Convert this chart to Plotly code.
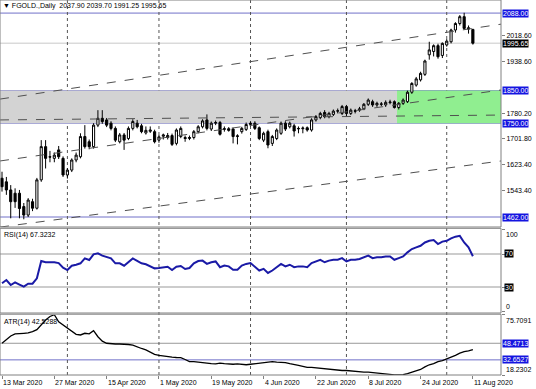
import plotly.graph_objects as go

# ---------------- data ----------------
bars = list(range(109))
opens = [1581,1570,1545,1535,1535,1494,1468,1509,1489,1576,1678,1647,1642,1668,1642,1591,1606,1637,1647,1709,
         1693,1678,1744,1765,1760,1750,1734,1693,1714,1703,1734,1750,1742,1720,1725,1724,1698,1710,1712,1712,
         1688,1709,1706,1703,1706,1724,1739,1760,1732,1750,1752,1731,1733,1732,1709,1724,1731,1746,1750,1736,
         1698,1724,1688,1703,1719,1750,1739,1742,1734,1733,1736,1729,1760,1767,1783,1770,1777,1787,1780,1801,
         1780,1788,1790,1794,1808,1816,1806,1808,1806,1813,1816,1798,1811,1816,1845,1867,1883,1900,1960,1970,
         1988,1958,1990,2000,2036,2056,2077,2043,2037.90]
highs = [1601,1585,1560,1550,1545,1505,1520,1518,1582,1698,1698,1665,1660,1680,1648,1612,1642,1660,1719,1744,
         1700,1750,1790,1790,1766,1756,1740,1720,1720,1740,1762,1760,1748,1740,1740,1730,1714,1718,1720,1718,
         1734,1740,1712,1712,1729,1744,1762,1777,1755,1758,1757,1740,1738,1736,1716,1739,1752,1756,1756,1740,
         1724,1730,1714,1734,1755,1756,1755,1748,1740,1740,1740,1765,1775,1785,1790,1785,1792,1795,1806,1806,
         1795,1794,1800,1812,1826,1822,1816,1815,1820,1822,1820,1815,1826,1850,1876,1892,1908,1945,2000,1992,
         1994,1998,2008,2040,2060,2082,2089,2050,2039.70]
lows = [1540,1530,1458,1490,1458,1455,1462,1480,1485,1570,1611,1630,1630,1640,1585,1580,1600,1630,1642,1672,
        1670,1672,1738,1748,1738,1728,1692,1688,1668,1698,1728,1734,1719,1715,1720,1688,1690,1700,1700,1680,
        1682,1704,1693,1698,1700,1719,1734,1728,1726,1744,1712,1724,1724,1688,1685,1718,1726,1740,1729,1698,
        1692,1673,1680,1698,1714,1726,1734,1709,1719,1719,1724,1724,1755,1762,1765,1765,1772,1780,1775,1770,
        1775,1780,1785,1790,1803,1800,1800,1802,1800,1808,1795,1792,1806,1812,1840,1862,1878,1895,1945,1955,
        1948,1950,1985,1995,2028,2050,2036,2025,1991.25]
closes = [1555,1545,1509,1509,1488,1468,1514,1489,1576,1678,1642,1646,1652,1647,1591,1606,1637,1652,1709,1678,
          1678,1744,1765,1755,1744,1734,1698,1714,1698,1734,1755,1739,1724,1728,1729,1693,1708,1714,1706,1685,
          1729,1734,1703,1706,1724,1739,1757,1734,1750,1752,1716,1733,1728,1709,1711,1734,1746,1750,1734,1703,
          1719,1683,1709,1729,1750,1732,1750,1726,1733,1735,1729,1760,1770,1780,1770,1780,1787,1788,1801,1780,
          1790,1787,1794,1808,1821,1806,1811,1809,1814,1815,1798,1811,1821,1845,1872,1886,1903,1941,1975,1988,
          1954,1995,2002,2036,2056,2077,2041,2039,1995.65]

rsi = [34.5,38.5,32.4,35.7,33,30.4,34,34,40.5,61.5,60,60,60,59,53.4,50.6,55.8,57,58.7,64.7,
       62.7,69.6,70.8,68,66.8,64.7,58.7,58.7,55.8,60.7,64.7,61.8,58.7,57.5,55,52.6,53,53.8,54.6,50.6,
       54.6,55.5,51.8,53,58.7,61.5,
       62,58,60,61,54,56,55,51,51,56,58,
       59,55,50,52,47,50,
       54,58,55,57,54,55,55,54,
       59,61,63,60,62,63,63,65,61,63,
       63,64,66,68,65,66,66,67,67,63,65,67,
       72,76,78,80,84,
       86,87,82,85,86,89,91,92,84,78,67.3232]

atr = [48.5,52,55.4,57.4,57.4,58,58.3,59.5,61.5,66,70.7,74,75.7,69,65.9,62.7,60,57,56.4,58,
       57.5,60.5,54.7,50.5,48.5,47.8,47.8,47.8,47.8,47.3,46.8,45.5,43.5,42.1,40,38,37,36.2,35.7,35.2,
       34.9,34.7,33,31,30.9,30.3,
       29.5,29.5,29,28.8,29.5,29,28.5,28.5,28.8,28.5,
       28,28.5,29,30,30.5,31,31,30.5,30.5,30,
       29,28.5,27.5,26.5,25.5,25.5,25,24.5,24,23.5,
       23,22.5,22.5,22.5,22,21.5,21,21,21,20.5,
       20,19.5,19,18.6,18.4,18.23,18.5,19.5,21,22,
       23.5,26,28,29,31,32,33.5,35.5,37,39,
       40.5,41.2,42.53]

label_bars = [0, 12, 24, 36, 48, 60, 72, 84, 96, 108]
label_text = ["13 Mar 2020", "27 Mar 2020", "15 Apr 2020", "1 May 2020", "19 May 2020",
              "4 Jun 2020", "22 Jun 2020", "8 Jul 2020", "24 Jul 2020", "11 Aug 2020"]
grid_bars = [15, 36, 57, 79, 102]

price_ticks = [2018.60, 1938.60, 1780.20, 1701.80, 1623.40, 1543.40]
level_lines = [2088.00, 1850.00, 1750.00, 1462.00]
last_price = 1995.65
zone_low, zone_high = 1750.0, 1850.0
zone_split_bar = 90.6

line_x = [-0.46, 114.45]
channel_upper = [1824, 2054]
channel_mid = [1634, 1852]
channel_low = [1431, 1634]
flat_dash = [1760, 1775]

rsi_levels = [70, 30]
atr_levels = [48.4713, 32.6527]
atr_range = [18.2302, 75.7091]

title_text = "\u25bc FGOLD.,Daily  2037.90 2039.70 1991.25 1995.65"
rsi_text = "RSI(14) 67.3232"
atr_text = "ATR(14) 42.5288"

# ---------------- layout geometry (pixels) ----------------
W, H = 536, 389
T, B = 0, 14
PH = H - T - B  # plot height
def py(y):  # pixel y -> paper
    return (H - B - y) / PH

main_dom = [py(227), 1.0]
rsi_dom = [py(311.75), py(229.25)]
atr_dom = [0.0, py(314.7)]

FONT = "Liberation Sans"
FS = 7
BLUE_BOX = "#1414e0"
LVL_BLUE = "#7070c8"
BORDER = "#808080"

fig = go.Figure()

# channel / trend lines
for ys in (channel_upper, channel_mid, channel_low, flat_dash):
    fig.add_trace(go.Scatter(x=line_x, y=ys, mode="lines", xaxis="x", yaxis="y",
                             line=dict(color="#505050", width=1, dash="dash"),
                             hoverinfo="skip", showlegend=False))

fig.add_trace(go.Candlestick(
    x=bars, open=opens, high=highs, low=lows, close=closes, xaxis="x", yaxis="y",
    increasing=dict(line=dict(color="black", width=1), fillcolor="white"),
    decreasing=dict(line=dict(color="black", width=1), fillcolor="black"),
    whiskerwidth=0, showlegend=False, hoverinfo="skip"))

fig.add_trace(go.Scatter(x=bars, y=rsi, mode="lines", xaxis="x", yaxis="y2",
                         line=dict(color="#1a1aa6", width=2), showlegend=False, hoverinfo="skip"))
fig.add_trace(go.Scatter(x=bars, y=atr, mode="lines", xaxis="x", yaxis="y3",
                         line=dict(color="black", width=1.3), showlegend=False, hoverinfo="skip"))

shapes = []
# zones
shapes.append(dict(type="rect", xref="x", yref="y", x0=line_x[0], x1=zone_split_bar,
                   y0=zone_low, y1=zone_high, fillcolor="#d3d3d3", line=dict(width=0), layer="below"))
shapes.append(dict(type="rect", xref="x", yref="y", x0=zone_split_bar, x1=line_x[1],
                   y0=zone_low, y1=zone_high, fillcolor="#90ee90", line=dict(width=0), layer="below"))
# last price line
shapes.append(dict(type="line", xref="paper", yref="y", x0=0, x1=1, y0=last_price, y1=last_price,
                   line=dict(color="#c8c8c8", width=1), layer="below"))
# level lines
for lv in level_lines:
    shapes.append(dict(type="line", xref="paper", yref="y", x0=0, x1=1, y0=lv, y1=lv,
                       line=dict(color=LVL_BLUE, width=1), layer="below"))
for lv in rsi_levels:
    shapes.append(dict(type="line", xref="paper", yref="y2", x0=0, x1=1, y0=lv, y1=lv,
                       line=dict(color="#999999", width=1), layer="below"))
shapes.append(dict(type="line", xref="paper", yref="y3", x0=0, x1=1, y0=atr_levels[0], y1=atr_levels[0],
                   line=dict(color="#999999", width=1), layer="below"))
shapes.append(dict(type="line", xref="paper", yref="y3", x0=0, x1=1, y0=atr_levels[1], y1=atr_levels[1],
                   line=dict(color=LVL_BLUE, width=1), layer="below"))
# dotted grid
for gb in grid_bars:
    shapes.append(dict(type="line", xref="x", yref="paper", x0=gb, x1=gb, y0=0, y1=1,
                       line=dict(color="#555555", width=1, dash="dot"), layer="below"))
# panel borders
for (a, b) in [(py(227), py(0)), (py(313), py(228.3)), (py(375), py(314.2))]:
    shapes.append(dict(type="rect", xref="paper", yref="paper", x0=0, x1=1, y0=a, y1=b,
                       line=dict(color=BORDER, width=1), fillcolor="rgba(0,0,0,0)", layer="above"))

ann = []
font_black = dict(family=FONT, size=FS, color="black")
font_white = dict(family=FONT, size=FS, color="white")
# x labels
for b_, t_ in zip(label_bars, label_text):
    ann.append(dict(x=b_, xref="x", y=0, yref="paper", yanchor="top", xanchor="left",
                    text=t_, showarrow=False, font=font_black, yshift=-2, xshift=-1))
# price boxes
for lv in level_lines:
    ann.append(dict(x=1, xref="paper", y=lv, yref="y", xanchor="left", yanchor="middle",
                    text=f"{lv:.2f}", showarrow=False, font=font_white, bgcolor=BLUE_BOX,
                    borderpad=0, xshift=1))
ann.append(dict(x=1, xref="paper", y=last_price, yref="y", xanchor="left", yanchor="middle",
                text=f"{last_price:.2f}", showarrow=False, font=font_white, bgcolor="black",
                borderpad=0, xshift=1))
# RSI labels
ann.append(dict(x=1, xref="paper", y=100, yref="y2", xanchor="left", yanchor="top",
                text="100", showarrow=False, font=font_black, xshift=3))
ann.append(dict(x=1, xref="paper", y=0, yref="y2", xanchor="left", yanchor="bottom",
                text="0", showarrow=False, font=font_black, xshift=3))
for lv in rsi_levels:
    ann.append(dict(x=1, xref="paper", y=lv, yref="y2", xanchor="left", yanchor="middle",
                    text=str(lv), showarrow=False, font=font_white, bgcolor="black",
                    borderpad=0, xshift=3))
# ATR labels
ann.append(dict(x=1, xref="paper", y=atr_range[1], yref="y3", xanchor="left", yanchor="top",
                text=f"{atr_range[1]:.4f}", showarrow=False, font=font_black, xshift=3))
ann.append(dict(x=1, xref="paper", y=atr_range[0], yref="y3", xanchor="left", yanchor="bottom",
                text=f"{atr_range[0]:.4f}", showarrow=False, font=font_black, xshift=3))
for lv in atr_levels:
    ann.append(dict(x=1, xref="paper", y=lv, yref="y3", xanchor="left", yanchor="middle",
                    text=f"{lv:.4f}", showarrow=False, font=font_white, bgcolor=BLUE_BOX,
                    borderpad=0, xshift=1))
# titles
ann.append(dict(x=0, xref="paper", y=1, yref="paper", xanchor="left", yanchor="top",
                text=title_text, showarrow=False, font=font_black, xshift=1, yshift=0))
ann.append(dict(x=0, xref="paper", y=rsi_dom[1], yref="paper", xanchor="left", yanchor="top",
                text=rsi_text, showarrow=False, font=font_black, xshift=2, yshift=0))
ann.append(dict(x=0, xref="paper", y=atr_dom[1], yref="paper", xanchor="left", yanchor="top",
                text=atr_text, showarrow=False, font=font_black, xshift=2, yshift=-1))

axis_common = dict(showgrid=False, zeroline=False, showline=False, ticks="outside", ticklen=3,
                   tickcolor=BORDER, tickfont=font_black)

fig.update_layout(
    width=W, height=H, margin=dict(l=0, r=35, t=T, b=B),
    paper_bgcolor="white", plot_bgcolor="white",
    font=dict(family=FONT, size=FS, color="black"),
    boxgap=0.3,
    xaxis=dict(domain=[0, 1], range=line_x, anchor="y3", tickvals=label_bars, showticklabels=False,
               rangeslider=dict(visible=False), fixedrange=True, **axis_common),
    yaxis=dict(domain=main_dom, range=[1431.3, 2128.2], side="right", anchor="x",
               tickvals=price_ticks, ticktext=[f"{v:.2f}" for v in price_ticks], **axis_common),
    yaxis2=dict(domain=rsi_dom, range=[0, 100], side="right", anchor="x",
                tickvals=[0, 30, 70, 100], showticklabels=False, **axis_common),
    yaxis3=dict(domain=atr_dom, range=atr_range, side="right", anchor="x",
                tickvals=atr_range, showticklabels=False, **axis_common),
    shapes=shapes, annotations=ann, showlegend=False,
)

fig.write_html("out.html")
